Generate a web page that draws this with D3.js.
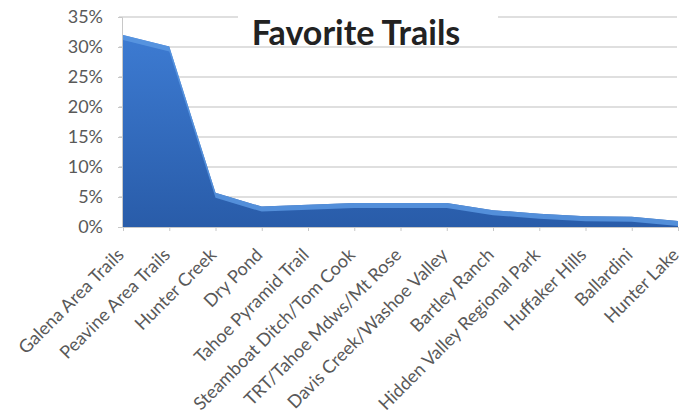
<!DOCTYPE html>
<html>
<head>
<meta charset="utf-8">
<script src="https://cdn.jsdelivr.net/npm/d3@7"></script>
<style>
  body { margin: 0; background: #fff; }
  text { font-family: Lato, "Open Sans", sans-serif; }
</style>
</head>
<body>
<div id="chart"></div>
<script>
// Data
const trails = ["Galena Area Trails", "Peavine Area Trails", "Hunter Creek", "Dry Pond",
    "Tahoe Pyramid Trail", "Steamboat Ditch/Tom Cook", "TRT/Tahoe Mdws/Mt Rose",
    "Davis Creek/Washoe Valley", "Bartley Ranch", "Hidden Valley Regional Park",
    "Huffaker Hills", "Ballardini", "Hunter Lake"];
const shares = [0.320, 0.301, 0.057, 0.034, 0.037, 0.040, 0.040, 0.040, 0.028, 0.022, 0.018, 0.017, 0.010];
const yTicks = [0, 0.05, 0.10, 0.15, 0.20, 0.25, 0.30, 0.35];

const svgWidth = 683;
const svgHeight = 419;
const margin = { top: 17, right: 5, bottom: 192, left: 123 };
const width = svgWidth - margin.left - margin.right;
const height = svgHeight - margin.top - margin.bottom;

const svg = d3.select("#chart")
    .append("svg")
    .attr("width", svgWidth)
    .attr("height", svgHeight);

const defs = svg.append("defs");
const grad = defs.append("linearGradient")
    .attr("id", "areaFill")
    .attr("x1", 0).attr("y1", 0).attr("x2", 0).attr("y2", 1);
grad.append("stop").attr("offset", "0%").attr("stop-color", "#3d7bd2");
grad.append("stop").attr("offset", "100%").attr("stop-color", "#295ca9");

const chartGroup = svg.append("g")
    .attr("transform", `translate(${margin.left}, ${margin.top})`);

const x = d3.scalePoint().domain(trails).range([0, width]);
const y = d3.scaleLinear().domain([0, 0.35]).range([height, 0]);

// gridlines
chartGroup.append("g")
    .selectAll("line")
    .data(yTicks.slice(1))
    .enter()
    .append("line")
    .attr("x1", -4).attr("x2", width - 1)
    .attr("y1", d => y(d)).attr("y2", d => y(d))
    .attr("stroke", "#d4d4d4")
    .attr("stroke-width", 1.6);

// left axis
const leftAxis = d3.axisLeft(y).tickValues(yTicks).tickFormat(d3.format(".0%")).tickSize(4).tickPadding(15);
const yAxisG = chartGroup.append("g").attr("transform", "translate(-1,0)").call(leftAxis);
yAxisG.select(".domain").attr("stroke", "#c8c8c8");
yAxisG.selectAll(".tick line").attr("stroke", "#c8c8c8");
yAxisG.selectAll("text").attr("fill", "#595959").attr("font-size", "18px");

// area
const area = d3.area()
    .x(d => x(d.name))
    .y0(height)
    .y1(d => y(d.value));
const rows = trails.map((t, i) => ({ name: t, value: shares[i] }));

chartGroup.append("path")
    .datum(rows)
    .attr("d", area)
    .attr("fill", "url(#areaFill)");

// lighter top band (3D top face look)
const band = d3.area()
    .x(d => x(d.name))
    .y0(d => y(d.value) + 5)
    .y1(d => y(d.value));
chartGroup.append("path")
    .datum(rows)
    .attr("d", band)
    .attr("fill", "#5a98e2")
    .attr("opacity", 0.85);

// bottom axis
const bottomAxis = d3.axisBottom(x).tickSize(4).tickFormat("");
const xAxisG = chartGroup.append("g")
    .attr("transform", `translate(0, ${height})`)
    .call(bottomAxis);
xAxisG.select(".domain").attr("stroke", "#c8c8c8");
xAxisG.selectAll(".tick line").attr("stroke", "#c8c8c8");

chartGroup.append("g")
    .selectAll("text")
    .data(trails)
    .enter()
    .append("text")
    .attr("transform", d => `translate(${x(d) + 2}, ${height + 29}) rotate(-45)`)
    .attr("text-anchor", "end")
    .attr("fill", "#595959")
    .attr("font-size", "18px")
    .text(d => d);

// title with white backing box
svg.append("rect")
    .attr("x", 238).attr("y", 0)
    .attr("width", 260).attr("height", 20)
    .attr("fill", "#fff");
svg.append("text")
    .attr("x", 356).attr("y", 45)
    .attr("text-anchor", "middle")
    .attr("font-size", "34px")
    .attr("font-weight", "bold")
    .attr("fill", "#222")
    .text("Favorite Trails");
</script>
</body>
</html>
